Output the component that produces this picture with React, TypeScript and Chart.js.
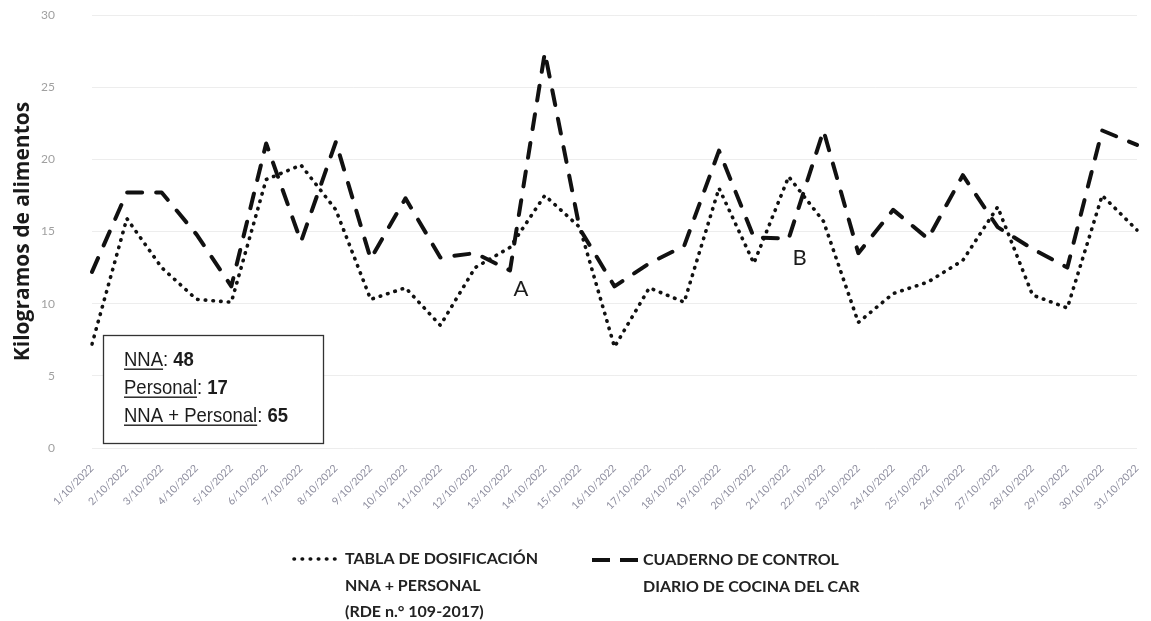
import React, { useEffect, useRef } from 'react';
import { Chart, registerables } from 'chart.js';

Chart.register(...registerables);

const fechas = [
  '1/10/2022', '2/10/2022', '3/10/2022', '4/10/2022', '5/10/2022', '6/10/2022', '7/10/2022', '8/10/2022',
  '9/10/2022', '10/10/2022', '11/10/2022', '12/10/2022', '13/10/2022', '14/10/2022', '15/10/2022', '16/10/2022',
  '17/10/2022', '18/10/2022', '19/10/2022', '20/10/2022', '21/10/2022', '22/10/2022', '23/10/2022', '24/10/2022',
  '25/10/2022', '26/10/2022', '27/10/2022', '28/10/2022', '29/10/2022', '30/10/2022', '31/10/2022',
];

const tablaDosificacion = [
  7.2, 15.9, 12.5, 10.3, 10.1, 18.6, 19.6, 16.5, 10.3, 11.1, 8.5, 12.5, 13.9, 17.5, 15.3, 7.0,
  11.1, 10.1, 18.0, 12.8, 18.8, 15.7, 8.7, 10.7, 11.5, 13.0, 16.7, 10.6, 9.7, 17.5, 15.1,
];

const cuadernoControl = [
  12.2, 17.7, 17.7, 14.8, 11.2, 21.1, 14.3, 21.2, 13.1, 17.3, 13.2, 13.5, 12.3, 27.4, 15.2, 11.2,
  12.8, 14.0, 20.6, 14.6, 14.5, 22.0, 13.5, 16.5, 14.5, 18.9, 15.3, 13.8, 12.5, 22.0, 21.0,
];

const yMin = 0;
const yMax = 30;
const yStep = 5;

const legendTabla = ['TABLA DE DOSIFICACIÓN', 'NNA + PERSONAL', '(RDE n.° 109-2017)'];
const legendCuaderno = ['CUADERNO DE CONTROL', 'DIARIO DE COCINA DEL CAR'];

const boxLabels = ['NNA', 'Personal', 'NNA + Personal'];
const boxValues = ['48', '17', '65'];

// annotation letters placed at a category index and value
const marcaTexto = ['A', 'B'];
const marcaIndice = [12, 20];
const marcaValor = [11.0, 13.2];

const SANS = '"Liberation Sans", Arial, sans-serif';
const LATO = 'Lato, "Open Sans", sans-serif';

const overlayPlugin = {
  id: 'overlay',
  afterDraw(chart: any) {
    const ctx: CanvasRenderingContext2D = chart.ctx;
    const xs = chart.scales.x;
    const ys = chart.scales.y;
    ctx.save();

    // info box
    const bx = 103.5, by = 335.5, bw = 220, bh = 108;
    ctx.fillStyle = '#ffffff';
    ctx.fillRect(bx, by, bw, bh);
    ctx.strokeStyle = '#333333';
    ctx.lineWidth = 1.3;
    ctx.strokeRect(bx, by, bw, bh);

    const fs = 21;
    const reg = `${fs}px ${SANS}`;
    const bold = `bold ${fs}px ${SANS}`;
    // measure the longest line to condense the text horizontally (narrow look)
    const last = boxLabels.length - 1;
    ctx.font = reg;
    let wLong = ctx.measureText(boxLabels[last] + ': ').width;
    ctx.font = bold;
    wLong += ctx.measureText(boxValues[last]).width;
    const sx = 164 / wLong;

    ctx.textAlign = 'left';
    ctx.textBaseline = 'alphabetic';
    boxLabels.forEach((lab, i) => {
      const y = 366 + i * 28;
      ctx.save();
      ctx.translate(124, y);
      ctx.scale(sx, 1);
      let x = 0;
      ctx.fillStyle = '#1c1c1c';
      ctx.font = reg;
      ctx.fillText(lab, x, 0);
      const w = ctx.measureText(lab).width;
      ctx.fillRect(x, 2.5, w, 1.4);
      x += w;
      ctx.fillText(': ', x, 0);
      x += ctx.measureText(': ').width;
      ctx.font = bold;
      ctx.fillText(boxValues[i], x, 0);
      ctx.restore();
    });

    // A / B marks
    ctx.font = `22px ${LATO}`;
    ctx.fillStyle = '#1c1c1c';
    ctx.textAlign = 'center';
    ctx.textBaseline = 'middle';
    marcaTexto.forEach((t, i) => {
      const px = xs.getPixelForValue(marcaIndice[i]) + 11;
      const py = ys.getPixelForValue(marcaValor[i]);
      ctx.fillText(t, px, py);
    });

    // legend
    ctx.strokeStyle = '#111111';
    ctx.lineCap = 'round';
    ctx.lineWidth = 3.6;
    ctx.setLineDash([0.5, 7.6]);
    ctx.beginPath();
    ctx.moveTo(294, 559);
    ctx.lineTo(338, 559);
    ctx.stroke();

    ctx.lineCap = 'butt';
    ctx.lineWidth = 4;
    ctx.setLineDash([18, 10]);
    ctx.beginPath();
    ctx.moveTo(592, 560);
    ctx.lineTo(638, 560);
    ctx.stroke();
    ctx.setLineDash([]);

    ctx.font = `bold 16px ${LATO}`;
    ctx.fillStyle = '#222222';
    ctx.textAlign = 'left';
    ctx.textBaseline = 'middle';
    legendTabla.forEach((t, i) => ctx.fillText(t, 345, 559 + i * 26.5));
    legendCuaderno.forEach((t, i) => ctx.fillText(t, 643, 560 + i * 26.5));

    ctx.restore();
  },
};

export default function App() {
  const ref = useRef<HTMLCanvasElement | null>(null);

  useEffect(() => {
    document.body.style.margin = '0';
    const canvas = ref.current;
    if (!canvas) return;
    const chart = new Chart(canvas, {
      type: 'line',
      data: {
        labels: fechas,
        datasets: [
          {
            label: legendTabla.join(' '),
            data: tablaDosificacion,
            borderColor: '#111111',
            borderWidth: 3.6,
            borderDash: [0.5, 7.2],
            borderCapStyle: 'round',
            borderJoinStyle: 'round',
            pointRadius: 0,
            tension: 0,
            fill: false,
          },
          {
            label: legendCuaderno.join(' '),
            data: cuadernoControl,
            borderColor: '#111111',
            borderWidth: 4,
            borderDash: [15, 14],
            borderCapStyle: 'round',
            borderJoinStyle: 'round',
            pointRadius: 0,
            tension: 0,
            fill: false,
          },
        ],
      },
      options: {
        responsive: false,
        animation: false,
        layout: { padding: { top: 15, right: 14, bottom: 0, left: 0 } },
        plugins: {
          legend: { display: false },
          tooltip: { enabled: false },
        },
        scales: {
          x: {
            type: 'category',
            offset: false,
            grid: { display: false, drawTicks: false },
            border: { display: false },
            ticks: {
              autoSkip: false,
              minRotation: 45,
              maxRotation: 45,
              padding: 14,
              color: '#8d8d9e',
              font: { family: LATO, size: 10.5 },
            },
            afterFit(scale: any) {
              scale.height = 173;
              scale.paddingLeft = 0;
              scale.paddingRight = 0;
            },
          },
          y: {
            min: yMin,
            max: yMax,
            grid: { color: 'rgba(0,0,0,0.07)', lineWidth: 1, drawTicks: false },
            border: { display: false },
            ticks: {
              stepSize: yStep,
              padding: 37,
              color: '#a0a0a0',
              font: { family: LATO, size: 12 },
            },
            title: {
              display: true,
              text: 'Kilogramos de alimentos',
              color: '#1a1a1a',
              font: { family: '"Open Sans", sans-serif', size: 21, weight: 'bold' },
              padding: { top: 10, bottom: 0 },
            },
            afterFit(scale: any) {
              scale.width = 92;
              scale.paddingTop = 0;
              scale.paddingBottom = 0;
            },
          },
        },
      },
      plugins: [overlayPlugin],
    });
    return () => chart.destroy();
  }, []);

  return (
    <div style={{ width: 1151, height: 621, background: '#fff' }}>
      <canvas ref={ref} width={1151} height={621} style={{ display: 'block' }} />
    </div>
  );
}
